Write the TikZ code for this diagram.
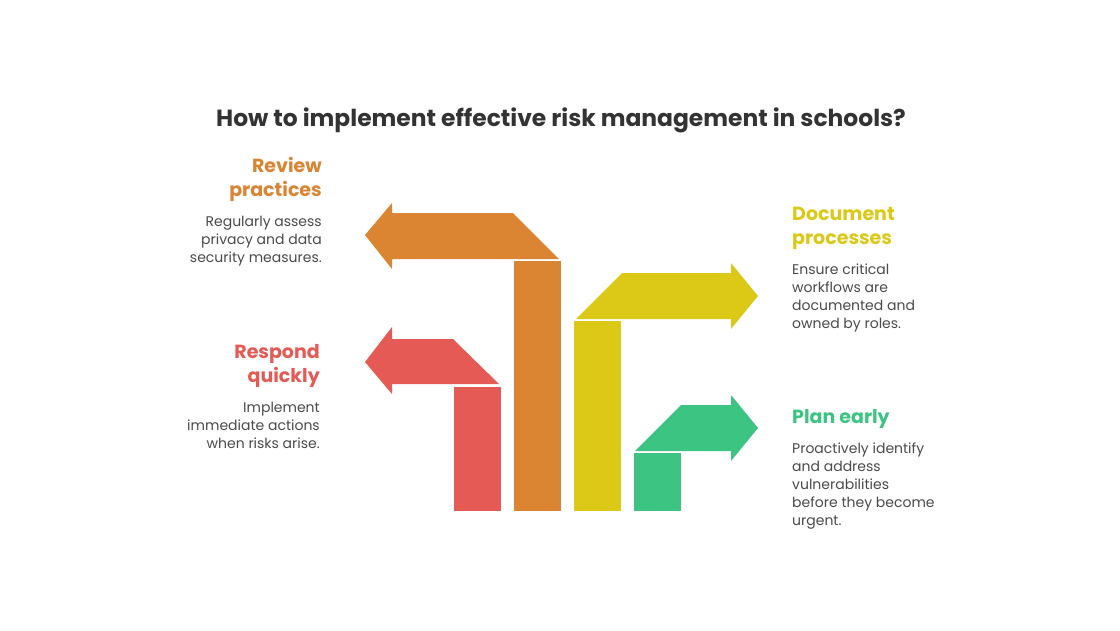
\documentclass[tikz,border=0pt]{standalone}
\usepackage{fontspec}
\setmainfont{Poppins}
\usetikzlibrary{positioning}
\definecolor{reviewcol}{HTML}{DB8432}
\definecolor{respondcol}{HTML}{E55A54}
\definecolor{documentcol}{HTML}{DCC917}
\definecolor{plancol}{HTML}{3CC482}
\definecolor{titlecol}{HTML}{333333}
\definecolor{bodycol}{HTML}{4A4A4A}
\tikzset{
    heading/.style={
    font=\fontsize{19}{24}\selectfont\bfseries,
    inner sep=0pt
  },
    bodytext/.style={
    font=\fontsize{14}{18}\selectfont,
    text=bodycol,
    inner sep=0pt
  }
}

\begin{document}
\begin{tikzpicture}[x=1pt, y=-1pt]
  \useasboundingbox (0,0) rectangle (1120,630);

  % title
  \node[font=\fontsize{23.4}{28}\selectfont\bfseries, text=titlecol, inner sep=0pt, anchor=north] (title) at (561,108) {How to implement effective risk management in schools?};

  % bars and arrows
  \fill[respondcol] (454,387) rectangle (501,511);
  \fill[respondcol] (499,384) -- (453,339) -- (392,339) -- (392,327) -- (365,362) -- (392,394) -- (392,384) -- cycle;
  \fill[reviewcol] (514,261) rectangle (561,511);
  \fill[reviewcol] (559,259) -- (513,213) -- (392,213) -- (392,203) -- (365,235) -- (392,269) -- (392,259) -- cycle;
  \fill[documentcol] (574,321) rectangle (621,511);
  \fill[documentcol] (576,319) -- (622,273) -- (731,273) -- (731,263) -- (758,296) -- (731,329) -- (731,319) -- cycle;
  \fill[plancol] (634,453) rectangle (681,511);
  \fill[plancol] (635,451) -- (681,405) -- (731,405) -- (731,395) -- (758,428) -- (731,461) -- (731,451) -- cycle;

  % left texts
  \node[heading, text=reviewcol, align=right, anchor=north east] (review) at (322,157) {Review\\practices};
  \node[bodytext, align=right, below=14pt of review.south east, anchor=north east] (reviewtxt) {Regularly assess\\privacy and data\\security measures.};
  \node[heading, text=respondcol, align=right, anchor=north east] (respond) at (320,344) {Respond\\quickly};
  \node[bodytext, align=right, below=14pt of respond.south east, anchor=north east] (respondtxt) {Implement\\immediate actions\\when risks arise.};

  % right texts
  \node[heading, text=documentcol, align=left, anchor=north west] (document) at (792,207) {Document\\processes};
  \node[bodytext, align=left, below=14pt of document.south west, anchor=north west] (documenttxt) {Ensure critical\\workflows are\\documented and\\owned by roles.};
  \node[heading, text=plancol, align=left, anchor=north west] (plan) at (792,409) {Plan early};
  \node[bodytext, align=left, below=14pt of plan.south west, anchor=north west] (plantxt) {Proactively identify\\and address\\vulnerabilities\\before they become\\urgent.};
\end{tikzpicture}
\end{document}
